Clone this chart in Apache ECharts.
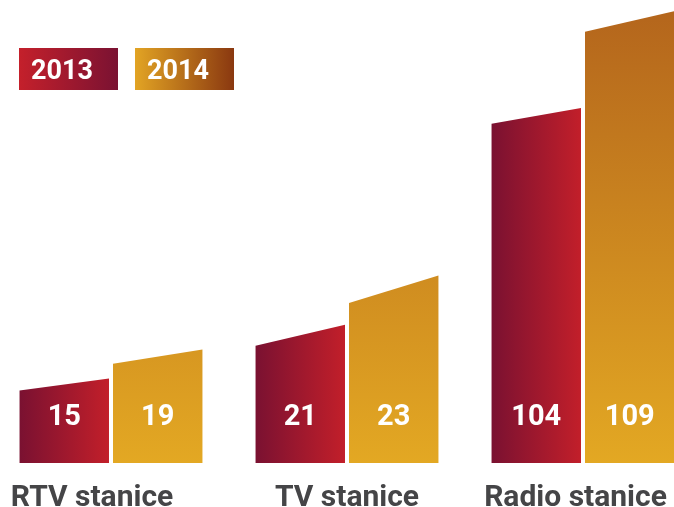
<!DOCTYPE html>
<html>
<head>
<meta charset="utf-8">
<script src="https://cdn.jsdelivr.net/npm/echarts@6/dist/echarts.min.js"></script>
<style>html,body{margin:0;padding:0;background:#fff}#c{width:674px;height:507px}</style>
</head>
<body>
<div id="c"></div>
<script>
// ---- data ----
var categories = ['RTV stanice', 'TV stanice', 'Radio stanice'];
var seriesNames = ['2013', '2014'];
var values2013 = [15, 21, 104];
var values2014 = [19, 23, 109];
// decorative drawn bar heights (left edge, right edge), in axis units
var drawnLeft2013 = [18.8, 30.4, 87.9];
var drawnRight2013 = [21.9, 35.8, 92.0];
var drawnLeft2014 = [25.7, 41.5, 111.8];
var drawnRight2014 = [29.4, 48.6, 117.1];

var chart = echarts.init(document.getElementById('c'));
var G = echarts.graphic;
var red = new G.LinearGradient(0, 0, 1, 0, [{offset: 0, color: '#7a1131'}, {offset: 1, color: '#c21f2a'}]);
var gold = new G.LinearGradient(0, 0, 0, 463, [{offset: 0, color: '#b3641c'}, {offset: 1, color: '#e3a823'}], true);
var legRed = new G.LinearGradient(0, 0, 1, 0, [{offset: 0, color: '#c4202b'}, {offset: 1, color: '#7a1232'}]);
var legGold = new G.LinearGradient(0, 0, 1, 0, [{offset: 0, color: '#e2a424'}, {offset: 1, color: '#8a3810'}]);

function makeRender(which) {
  return function (params, api) {
    var i = api.value(0);
    var c = api.coord([i, 0]);
    var band = api.size([1, 0])[0];
    var bw = band * 0.379, gap = band * 0.017;
    var x0 = which === 0 ? c[0] - gap / 2 - bw : c[0] + gap / 2;
    var x1 = x0 + bw;
    var yl = api.coord([i, api.value(1)])[1];
    var yr = api.coord([i, api.value(2)])[1];
    var base = c[1];
    return {
      type: 'group',
      children: [{
        type: 'polygon',
        shape: {points: [[x0, base], [x0, yl], [x1, yr], [x1, base]]},
        style: {fill: which === 0 ? red : gold}
      }, {
        type: 'text',
        x: (x0 + x1) / 2, y: base - 45,
        style: {text: String(api.value(3)), fill: '#fff', font: 'bold 29px Roboto', align: 'center', verticalAlign: 'middle'}
      }]
    };
  };
}

function buildData(l, r, v) {
  return categories.map(function (c, i) { return [i, l[i], r[i], v[i]]; });
}

chart.setOption({
  animation: false,
  grid: {left: -7, right: -27, top: 0, bottom: 44, outerBoundsMode: 'none', containLabel: false},
  xAxis: {
    type: 'category', data: categories,
    axisLine: {show: false}, axisTick: {show: false},
    axisLabel: {
      interval: 0, margin: 20, color: '#454547', fontFamily: 'Roboto', fontWeight: 'bold', fontSize: 30,
      verticalAlign: 'top', lineHeight: 30,
      formatter: function (v, idx) { return idx === 0 ? '{a|' + v + '}' : idx === 2 ? '{b|' + v + '}' : v; },
      rich: {
        a: {color: '#454547', fontFamily: 'Roboto', fontWeight: 'bold', fontSize: 30, lineHeight: 30, padding: [0, 38, 0, 0]},
        b: {color: '#454547', fontFamily: 'Roboto', fontWeight: 'bold', fontSize: 30, lineHeight: 30, padding: [0, 15, 0, 0]}
      }
    }
  },
  yAxis: {type: 'value', min: 0, max: 120, show: false, splitLine: {show: false}},
  graphic: [
    {type: 'rect', left: 19, top: 48, shape: {width: 99, height: 42}, style: {fill: legRed}},
    {type: 'text', left: 31, top: 59, style: {text: seriesNames[0], fill: '#fff', font: 'bold 27px Roboto'}},
    {type: 'rect', left: 135, top: 48, shape: {width: 99, height: 42}, style: {fill: legGold}},
    {type: 'text', left: 147, top: 59, style: {text: seriesNames[1], fill: '#fff', font: 'bold 27px Roboto'}}
  ],
  series: [
    {type: 'custom', name: seriesNames[0], renderItem: makeRender(0), data: buildData(drawnLeft2013, drawnRight2013, values2013)},
    {type: 'custom', name: seriesNames[1], renderItem: makeRender(1), data: buildData(drawnLeft2014, drawnRight2014, values2014)}
  ]
});
</script>
</body>
</html>
